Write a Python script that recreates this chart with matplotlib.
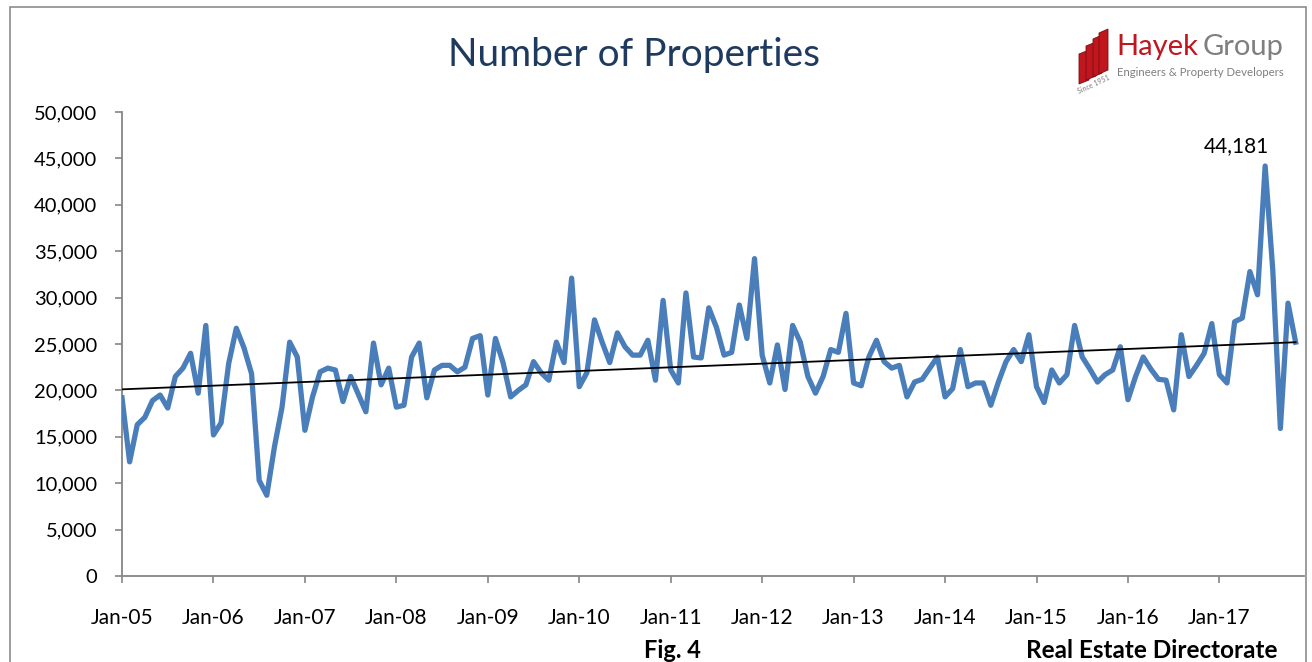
import numpy as np
import matplotlib.pyplot as plt
from matplotlib.patches import Rectangle, Polygon
from matplotlib.ticker import FuncFormatter, MultipleLocator

plt.rcParams['font.family'] = ['Lato', 'DejaVu Sans']

# Monthly number of properties, Jan-05 .. Nov-17
values = [
    19200, 12300, 16300, 17100, 18900, 19500, 18100, 21500, 22400, 24000, 19700, 27000,  # 2005
    15200, 16500, 22900, 26700, 24600, 21800, 10300, 8700, 13900, 18200, 25200, 23600,   # 2006
    15700, 19300, 22000, 22400, 22200, 18800, 21500, 19600, 17700, 25100, 20600, 22400,  # 2007
    18200, 18400, 23600, 25100, 19200, 22200, 22700, 22700, 22000, 22500, 25600, 25900,  # 2008
    19500, 25600, 23000, 19300, 20000, 20600, 23100, 21900, 21100, 25200, 23000, 32100,  # 2009
    20400, 21900, 27600, 25200, 23000, 26200, 24700, 23800, 23800, 25400, 21100, 29700,  # 2010
    22200, 20800, 30500, 23600, 23500, 28900, 26800, 23800, 24100, 29200, 25600, 34200,  # 2011
    23800, 20800, 24900, 20100, 27000, 25200, 21500, 19700, 21500, 24400, 24100, 28300,  # 2012
    20800, 20500, 23600, 25400, 23100, 22400, 22700, 19300, 20900, 21200, 22400, 23600,  # 2013
    19300, 20200, 24400, 20400, 20800, 20800, 18400, 20900, 23100, 24400, 23100, 26000,  # 2014
    20400, 18700, 22200, 20800, 21700, 27000, 23600, 22300, 20900, 21700, 22200, 24700,  # 2015
    19000, 21500, 23600, 22300, 21200, 21100, 17900, 26000, 21500, 22700, 24000, 27200,  # 2016
    21700, 20800, 27400, 27800, 32800, 30300, 44181, 33000, 15900, 29400, 25200,         # 2017
]
year_labels = ['Jan-05', 'Jan-06', 'Jan-07', 'Jan-08', 'Jan-09', 'Jan-10', 'Jan-11',
               'Jan-12', 'Jan-13', 'Jan-14', 'Jan-15', 'Jan-16', 'Jan-17']
peak_text = '44,181'

W, H = 1312, 662
fig = plt.figure(figsize=(W / 100, H / 100), dpi=100)

# рамка вокруг диаграммы
fig.add_artist(Rectangle((10 / W, -0.01), 1296 / W, 1.0, transform=fig.transFigure,
                         fill=False, edgecolor='#8c8c8c', lw=1.2))

ax = fig.add_axes([122 / W, 1 - 576 / H, (1304 - 122) / W, (576 - 112) / H])
x = np.arange(len(values))
ax.plot(x, values, color='#4A7EBB', lw=3.8, solid_joinstyle='round', zorder=3)

# линейный тренд
coef = np.polyfit(x, values, 1)
ax.plot(x, np.polyval(coef, x), color='black', lw=1.3, zorder=4)

ax.set_xlim(0, 155.1)
ax.set_ylim(0, 50000)
ax.yaxis.set_major_locator(MultipleLocator(5000))
ax.yaxis.set_major_formatter(FuncFormatter(lambda v, p: f'{int(v):,}'))
ax.set_xticks(np.arange(0, 12 * len(year_labels), 12))
ax.set_xticklabels(year_labels)

for s in ['top', 'right']:
    ax.spines[s].set_visible(False)
for s in ['left', 'bottom']:
    ax.spines[s].set_color('#868686')
    ax.spines[s].set_linewidth(1.3)
ax.tick_params(axis='y', length=5, width=1.2, color='#868686', labelsize=14.5, pad=13)
ax.tick_params(axis='x', length=5, width=1.2, color='#868686', labelsize=15, pad=18)

peak_i = int(np.argmax(values))
ax.annotate(peak_text, xy=(peak_i, values[peak_i]), xytext=(-21, 7),
            textcoords='offset points', ha='center', va='bottom', fontsize=15)

fig.text(634 / W, 1 - 55 / H, 'Number of Properties', ha='center', va='center',
         fontsize=28, color='#1F3A5F')

# логотип
red = '#C0161E'
bars = [(1079, 84, 1089, 50), (1086, 80, 1096, 42), (1093, 77, 1102, 35), (1099, 74, 1108, 29)]
for x0, yb, x1, yt in bars:
    pts = [(x0, yb), (x1, yb - 4), (x1, yt), (x0, yt + 4)]
    fig.add_artist(Polygon([(px / W, 1 - py / H) for px, py in pts], closed=True,
                           transform=fig.transFigure, facecolor=red, edgecolor='#7a0e12', lw=0.6))
fig.text(1094 / W, 1 - 84 / H, 'Since 1951', fontsize=5, color='#7f7f7f',
         rotation=25, ha='center', va='center')
fig.text(1116 / W, 1 - 47 / H, 'Hayek', fontsize=21, color=red, ha='left', va='center')
fig.text(1284 / W, 1 - 47 / H, 'Group', fontsize=21, color='#7f7f7f', ha='right', va='center')
fig.text(1200 / W, 1 - 73 / H, 'Engineers & Property Developers', fontsize=8.2,
         color='#7f7f7f', ha='center', va='center')

fig.text(672 / W, 1 - 651 / H, 'Fig. 4', fontsize=17, fontweight='bold', ha='center', va='center')
fig.text(1278 / W, 1 - 651 / H, 'Real Estate Directorate', fontsize=17.5, fontweight='bold',
         ha='right', va='center')

fig.savefig('out.png', dpi=100)
